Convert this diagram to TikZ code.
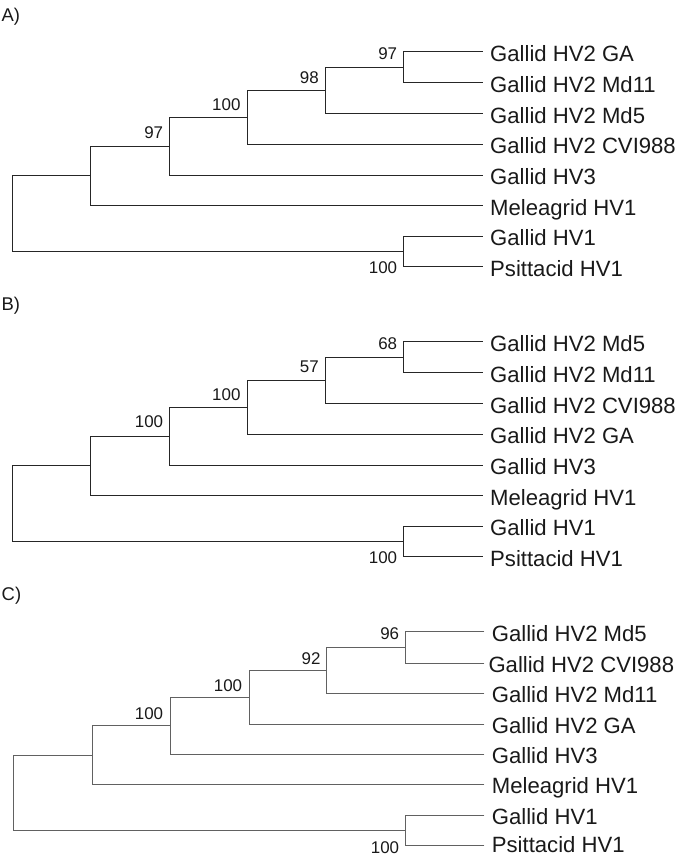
\documentclass[tikz,border=0pt]{standalone}
\usepackage{fontspec}
\setmainfont{Liberation Sans}
\begin{document}
\begin{tikzpicture}[x=1bp,y=-1bp,
  br/.style={line width=1.2bp, draw=black!85, line cap=rect},
  brc/.style={line width=0.9bp, draw=black!62, line cap=rect},
  leaf/.style={anchor=base west, inner sep=0pt, text=black!90, font=\fontsize{22.2}{24}\selectfont},
  bs/.style={anchor=base east, inner sep=0pt, text=black!90, font=\fontsize{17}{19}\selectfont},
  ptitle/.style={anchor=base west, inner sep=0pt, text=black!90, font=\fontsize{18.5}{20}\selectfont}]
\useasboundingbox (0,0) rectangle (681,856);

% ---------------- Panel A ----------------
\node[ptitle] (tA) at (1.5,21.5) {A)};
\coordinate (A1) at (482.7,51.7);
\coordinate (A2) at (482.7,82.7);
\coordinate (A3) at (482.7,113.8);
\coordinate (A4) at (482.7,144.3);
\coordinate (A5) at (482.7,175.2);
\coordinate (A6) at (482.7,205.7);
\coordinate (A7) at (482.7,236.5);
\coordinate (A8) at (482.7,266.8);
\coordinate (An6) at (403.3,67.2);
\coordinate (An5) at (325.3,90.5);
\coordinate (An4) at (247.3,117.4);
\coordinate (An3) at (169.3,146.2);
\coordinate (An2) at (90.7,175.7);
\coordinate (An7) at (403.3,251.6);
\coordinate (Ar) at (12.3,213.7);
\draw[br] (An6) |- (A1);  \draw[br] (An6) |- (A2);
\draw[br] (An5) |- (An6); \draw[br] (An5) |- (A3);
\draw[br] (An4) |- (An5); \draw[br] (An4) |- (A4);
\draw[br] (An3) |- (An4); \draw[br] (An3) |- (A5);
\draw[br] (An2) |- (An3); \draw[br] (An2) |- (A6);
\draw[br] (An7) |- (A7);  \draw[br] (An7) |- (A8);
\draw[br] (Ar) |- (An2);  \draw[br] (Ar) |- (An7);
\node[leaf] (LA1) at (490,61.0) {Gallid HV2 GA};
\node[leaf] (LA2) at (490,92.0) {Gallid HV2 Md11};
\node[leaf] (LA3) at (490,123.1) {Gallid HV2 Md5};
\node[leaf] (LA4) at (490,153.6) {Gallid HV2 CVI988};
\node[leaf] (LA5) at (490,184.3) {Gallid HV3};
\node[leaf] (LA6) at (490,215.0) {Meleagrid HV1};
\node[leaf] (LA7) at (490,245.8) {Gallid HV1};
\node[leaf] (LA8) at (490,276.1) {Psittacid HV1};
\node[bs] (SA6) at (397.3,59.8) {97};
\node[bs] (SA5) at (319.0,83.3) {98};
\node[bs] (SA4) at (240.7,110.0) {100};
\node[bs] (SA3) at (163.3,138.5) {97};
\node[bs] (SA7) at (397.3,273.3) {100};

% ---------------- Panel B ----------------
\node[ptitle] (tB) at (1.5,310.5) {B)};
\coordinate (B1) at (482.7,341.7);
\coordinate (B2) at (482.7,372.7);
\coordinate (B3) at (482.7,403.8);
\coordinate (B4) at (482.7,434.3);
\coordinate (B5) at (482.7,465.2);
\coordinate (B6) at (482.7,495.7);
\coordinate (B7) at (482.7,526.5);
\coordinate (B8) at (482.7,556.8);
\coordinate (Bn6) at (403.3,357.2);
\coordinate (Bn5) at (325.3,380.5);
\coordinate (Bn4) at (247.3,407.4);
\coordinate (Bn3) at (169.3,436.2);
\coordinate (Bn2) at (90.7,465.7);
\coordinate (Bn7) at (403.3,541.6);
\coordinate (Br) at (12.3,503.7);
\draw[br] (Bn6) |- (B1);  \draw[br] (Bn6) |- (B2);
\draw[br] (Bn5) |- (Bn6); \draw[br] (Bn5) |- (B3);
\draw[br] (Bn4) |- (Bn5); \draw[br] (Bn4) |- (B4);
\draw[br] (Bn3) |- (Bn4); \draw[br] (Bn3) |- (B5);
\draw[br] (Bn2) |- (Bn3); \draw[br] (Bn2) |- (B6);
\draw[br] (Bn7) |- (B7);  \draw[br] (Bn7) |- (B8);
\draw[br] (Br) |- (Bn2);  \draw[br] (Br) |- (Bn7);
\node[leaf] (LB1) at (490,351.0) {Gallid HV2 Md5};
\node[leaf] (LB2) at (490,382.0) {Gallid HV2 Md11};
\node[leaf] (LB3) at (490,413.1) {Gallid HV2 CVI988};
\node[leaf] (LB4) at (490,443.6) {Gallid HV2 GA};
\node[leaf] (LB5) at (490,474.3) {Gallid HV3};
\node[leaf] (LB6) at (490,505.0) {Meleagrid HV1};
\node[leaf] (LB7) at (490,535.8) {Gallid HV1};
\node[leaf] (LB8) at (490,566.1) {Psittacid HV1};
\node[bs] (SB6) at (397.3,349.8) {68};
\node[bs] (SB5) at (319.0,372.8) {57};
\node[bs] (SB4) at (240.7,400.0) {100};
\node[bs] (SB3) at (163.3,427.5) {100};
\node[bs] (SB7) at (397.3,563.3) {100};

% ---------------- Panel C ----------------
\node[ptitle] (tC) at (1.5,600.0) {C)};
\coordinate (C1) at (484,631.7);
\coordinate (C2) at (484,663.3);
\coordinate (C3) at (484,693.3);
\coordinate (C4) at (484,724.3);
\coordinate (C5) at (484,754.3);
\coordinate (C6) at (484,784.3);
\coordinate (C7) at (484,815.7);
\coordinate (C8) at (484,845.0);
\coordinate (Cn6) at (405.7,647.5);
\coordinate (Cn5) at (326.0,670.4);
\coordinate (Cn4) at (249.0,697.4);
\coordinate (Cn3) at (170.0,725.8);
\coordinate (Cn2) at (92.3,755.0);
\coordinate (Cn7) at (405.7,830.4);
\coordinate (Cr) at (13.3,792.7);
\draw[brc] (Cn6) |- (C1);  \draw[brc] (Cn6) |- (C2);
\draw[brc] (Cn5) |- (Cn6); \draw[brc] (Cn5) |- (C3);
\draw[brc] (Cn4) |- (Cn5); \draw[brc] (Cn4) |- (C4);
\draw[brc] (Cn3) |- (Cn4); \draw[brc] (Cn3) |- (C5);
\draw[brc] (Cn2) |- (Cn3); \draw[brc] (Cn2) |- (C6);
\draw[brc] (Cn7) |- (C7);  \draw[brc] (Cn7) |- (C8);
\draw[brc] (Cr) |- (Cn2);  \draw[brc] (Cr) |- (Cn7);
\node[leaf] (LC1) at (491.7,641.0) {Gallid HV2 Md5};
\node[leaf] (LC2) at (488.3,672.6) {Gallid HV2 CVI988};
\node[leaf] (LC3) at (491.7,702.6) {Gallid HV2 Md11};
\node[leaf] (LC4) at (491.7,733.6) {Gallid HV2 GA};
\node[leaf] (LC5) at (491.7,763.6) {Gallid HV3};
\node[leaf] (LC6) at (491.7,793.6) {Meleagrid HV1};
\node[leaf] (LC7) at (491.7,824.4) {Gallid HV1};
\node[leaf] (LC8) at (491.7,852.3) {Psittacid HV1};
\node[bs] (SC6) at (399.3,639.3) {96};
\node[bs] (SC5) at (320.7,664.0) {92};
\node[bs] (SC4) at (242.3,691.0) {100};
\node[bs] (SC3) at (163.3,719.0) {100};
\node[bs] (SC7) at (399.3,853.5) {100};
\end{tikzpicture}
\end{document}
